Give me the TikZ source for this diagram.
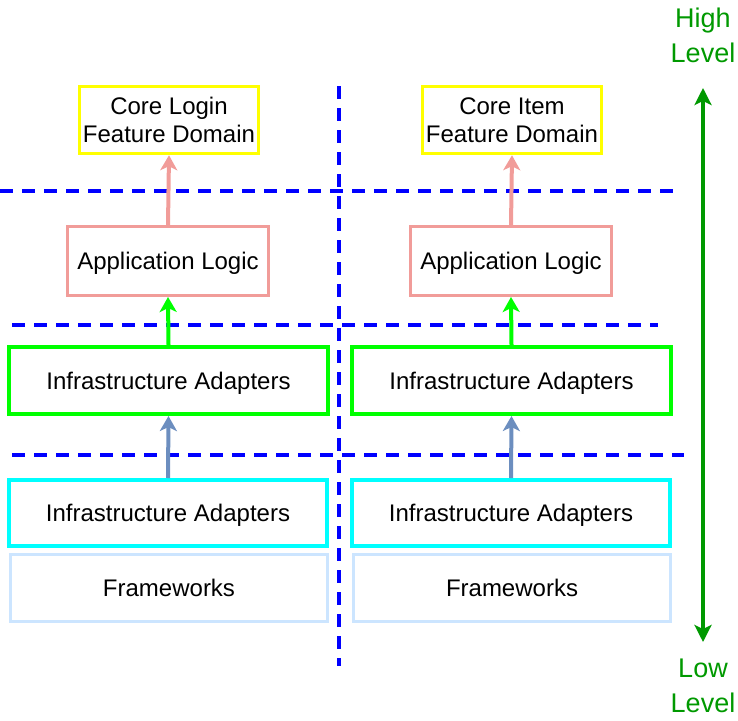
\documentclass[tikz,border=0pt]{standalone}
\usepackage{fontspec}
\setmainfont{Liberation Sans}
\usetikzlibrary{arrows.meta}
\definecolor{dyellow}{HTML}{FFFF00}
\definecolor{dpink}{HTML}{F19C99}
\definecolor{dgreen}{HTML}{00FF00}
\definecolor{dcyan}{HTML}{00FFFF}
\definecolor{dlblue}{HTML}{CCE5FF}
\definecolor{dsteel}{HTML}{6C8EBF}
\definecolor{ddgreen}{HTML}{009900}
\definecolor{dblue}{HTML}{0000FF}
\tikzset{
  box/.style={draw, rectangle, inner sep=0pt, align=center, fill=white, text depth=0pt,
    font=\fontsize{24}{28}\selectfont},
  sep/.style={draw=dblue, line width=4pt, dash pattern=on 13pt off 9pt},
  up/.style={line width=4pt, -{Stealth[length=15pt,width=17pt,inset=4pt]}},
  lvl/.style={text=ddgreen, align=center, inner sep=0pt, text depth=0pt, font=\fontsize{27}{35}\selectfont},
}
\begin{document}
\begin{tikzpicture}[x=1pt,y=-1pt]
\useasboundingbox (0,0) rectangle (738,720);
% separators
\draw[sep] (0,191) -- (680,191);
\draw[sep] (12,325) -- (658,325);
\draw[sep] (12,455) -- (684,455);
\draw[sep] (339,86) -- (339,666);
% left column
\node[box, draw=dyellow, line width=3.5pt, minimum width=179pt, minimum height=67pt] (coreL) at (169,120) {Core Login\\Feature Domain};
\node[box, draw=dpink, line width=3pt, minimum width=201pt, minimum height=69pt] (appL) at (168,261) {Application Logic};
\node[box, draw=dgreen, line width=4pt, minimum width=319pt, minimum height=67pt] (infL) at (168.5,380.5) {Infrastructure Adapters};
\node[box, draw=dcyan, line width=4pt, minimum width=318pt, minimum height=66pt] (cyL) at (168,513) {Infrastructure Adapters};
\node[box, draw=dlblue, line width=3.5pt, minimum width=317pt, minimum height=67pt] (fwL) at (169,588) {Frameworks};
% right column
\node[box, draw=dyellow, line width=3.5pt, minimum width=179pt, minimum height=67pt] (coreR) at (512,120) {Core Item\\Feature Domain};
\node[box, draw=dpink, line width=3pt, minimum width=201pt, minimum height=69pt] (appR) at (511,261) {Application Logic};
\node[box, draw=dgreen, line width=4pt, minimum width=319pt, minimum height=67pt] (infR) at (511.5,380.5) {Infrastructure Adapters};
\node[box, draw=dcyan, line width=4pt, minimum width=318pt, minimum height=66pt] (cyR) at (511,513) {Infrastructure Adapters};
\node[box, draw=dlblue, line width=3.5pt, minimum width=317pt, minimum height=67pt] (fwR) at (512,588) {Frameworks};
% arrows
\draw[up, draw=dpink, fill=dpink] (appL.north) -- (coreL.south);
\draw[up, draw=dgreen, fill=dgreen] (infL.north) -- (appL.south);
\draw[up, draw=dsteel, fill=dsteel] (cyL.north) -- (infL.south);
\draw[up, draw=dpink, fill=dpink] (appR.north) -- (coreR.south);
\draw[up, draw=dgreen, fill=dgreen] (infR.north) -- (appR.south);
\draw[up, draw=dsteel, fill=dsteel] (cyR.north) -- (infR.south);
% level scale
\node[lvl] (high) at (703,35.5) {High\\Level};
\node[lvl] (low) at (703,685.5) {Low\\Level};
\coordinate (ht) at (703,88);
\coordinate (lt) at (703,642);
\draw[draw=ddgreen, line width=3.5pt, {Stealth[length=17pt,width=17pt,inset=4pt]}-{Stealth[length=17pt,width=17pt,inset=4pt]}] (ht) -- (lt);
\end{tikzpicture}
\end{document}
